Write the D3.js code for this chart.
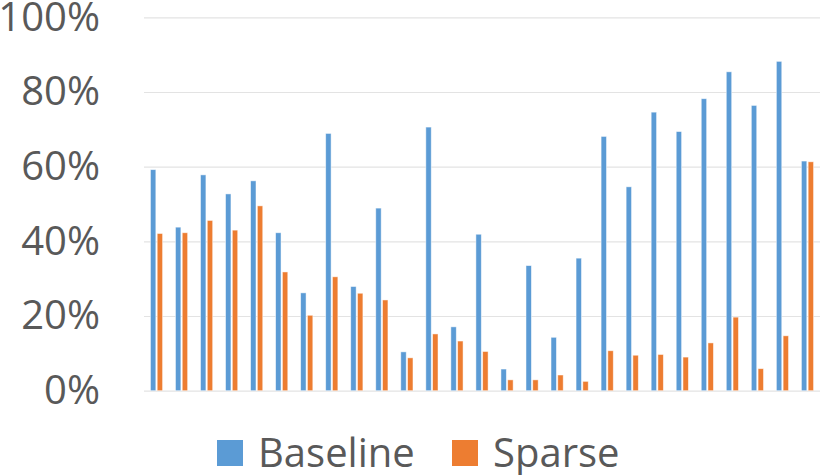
<!DOCTYPE html>
<html><head><meta charset="utf-8">
<script src="https://cdn.jsdelivr.net/npm/d3@7"></script>
<style>body{margin:0;background:#fff}svg{display:block}</style>
</head><body>
<script>
const categories = d3.range(1, 28).map(String);
const baseline = [59.2,43.8,57.8,52.7,56.2,42.3,26.2,68.9,27.9,48.9,10.4,70.6,17.1,41.9,5.8,33.5,14.3,35.5,68.1,54.6,74.6,69.4,78.2,85.4,76.4,88.2,61.5];
const sparse   = [42.1,42.3,45.6,43.0,49.5,31.8,20.2,30.5,26.1,24.3,8.8,15.2,13.3,10.5,2.9,2.9,4.2,2.5,10.7,9.5,9.7,9.0,12.8,19.7,5.9,14.7,61.3];
const seriesNames = ["Baseline","Sparse"];
const colors = ["#5B9BD5","#ED7D31"];
const yTicks = [0,20,40,60,80,100];

const W = 822, H = 475;
const m = {left:144, right:2, top:17.3, bottom:84.3};
const svg = d3.select("body").append("svg").attr("width",W).attr("height",H);
const x = d3.scaleBand().domain(categories).range([m.left, W-m.right]);
const xs = d3.scaleBand().domain(seriesNames).range([0, x.bandwidth()]).paddingInner(0.2).paddingOuter(0.95);
const y = d3.scaleLinear().domain([0,100]).range([H-m.bottom, m.top]);

// grid
const yAxis = d3.axisLeft(y).tickValues(yTicks).tickSize(-(W-m.right-m.left)).tickFormat(d=>d+"%").tickPadding(44);
const ga = svg.append("g").attr("transform",`translate(${m.left},0)`).call(yAxis);
ga.select(".domain").remove();
ga.selectAll(".tick line").attr("stroke","#e3e3e3").attr("stroke-width",1.2);
ga.selectAll(".tick text").attr("fill","#595959").style("font-family","'Open Sans', sans-serif").style("font-size","40px");

const data = categories.map((c,i)=>({c, vals:[baseline[i], sparse[i]]}));
const g = svg.append("g");
seriesNames.forEach((s,si)=>{
  g.selectAll(".b"+si).data(data).enter().append("rect")
    .attr("x", d=>x(d.c)+xs(s))
    .attr("width", xs.bandwidth())
    .attr("y", d=>y(d.vals[si]))
    .attr("height", d=>y(0)-y(d.vals[si]))
    .attr("fill", colors[si])
    .attr("stroke","#ffffff").attr("stroke-opacity",0.6).attr("stroke-width",0.8);
});

// legend
const legX = [217, 452];
seriesNames.forEach((s,i)=>{
  svg.append("rect").attr("x",legX[i]).attr("y",440).attr("width",26).attr("height",26).attr("fill",colors[i]);
  svg.append("text").attr("x",legX[i]+41).attr("y",466.5).text(s)
    .attr("fill","#595959").style("font-family","'Open Sans', sans-serif").style("font-size","40px");
});
</script>
</body></html>
